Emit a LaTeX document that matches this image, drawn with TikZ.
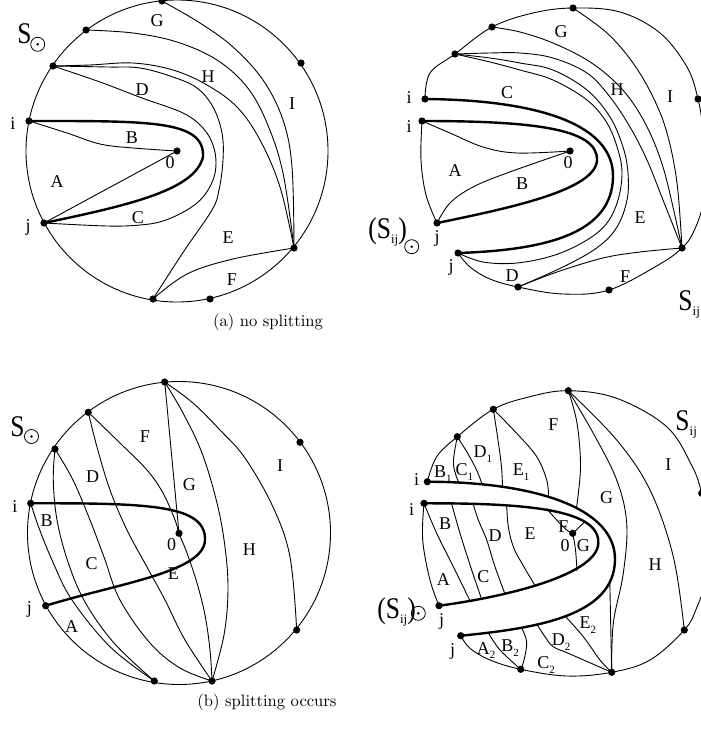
\documentclass[tikz,border=0pt]{standalone}
\usepackage{graphicx}
\usepackage{fontspec}
\newfontfamily\lf{Liberation Serif}
\newfontfamily\capfont{lmroman10-regular.otf}
\newcommand\sbs[2]{#1\rlap{\smash{\raisebox{-4.5pt}{\fontsize{11}{11}\selectfont #2}}}}
\newcommand\bigs[1]{\scalebox{0.85}[1]{\fontsize{30}{30}\selectfont #1}}
\newcommand\ijs{\raisebox{-5pt}{\fontsize{13}{13}\selectfont ij}}
\tikzset{
  thinline/.style={line width=0.9pt},
  cutline/.style={line width=2.4pt},
  lab/.style={font=\lf\fontsize{18}{18}\selectfont, inner sep=0pt},
  biglab/.style={font=\lf, inner sep=0pt, anchor=base west},
  captext/.style={font=\capfont\fontsize{16.6}{20}\selectfont, inner sep=0pt},
  sm/.style={smooth, tension=0.6},
  sunring/.style={line width=0.8pt},
}
\begin{document}
\begin{tikzpicture}[x=1pt,y=-1pt, line join=round, line cap=round, thinline]
\useasboundingbox (0,0) rectangle (701,731);
\begin{scope}
\clip (0,0) rectangle (701,731);

% ================= PANEL 1 =================
\coordinate (aG) at (162,1);
\coordinate (aP2) at (86,30);
\coordinate (aP3) at (53,66);
\coordinate (ai) at (29,121);
\coordinate (aj) at (44,223);
\coordinate (aB1) at (153,299);
\coordinate (aB2) at (210,299);
\coordinate (aR1) at (294,248);
\coordinate (aR2) at (301,63);
\coordinate (a0) at (177,151);
\draw (177,151) circle[radius=151];
\draw[cutline] (ai) .. controls (150,121) and (205,120) .. (203,157) .. controls (195,190) and (130,205) .. (aj);
\draw plot[sm] coordinates {(ai) (67,133) (100,144) (133,148) (a0)};
\draw (aj) -- (a0);
\draw plot[sm] coordinates {(aP3) (100,82) (142,98) (183,113) (203,128) (213,145) (216,163) (213,180) (203,197) (187,210) (163,221) (140,225) (107,226) (aj)};
\draw plot[sm] coordinates {(aP3) (107,67) (140,68) (173,77) (197,88) (213,107) (222,133) (223,160) (219,190) (212,210) (184,251) (aB1)};
\draw plot[sm] coordinates {(aP3) (90,65) (133,63) (173,70) (207,85) (237,107) (260,140) (280,187) (aR1)};
\draw plot[sm] coordinates {(aP2) (133,33) (177,42) (217,60) (247,87) (267,123) (283,173) (aR1)};
\draw plot[sm] coordinates {(aG) (200,23) (233,47) (263,80) (283,120) (292,167) (aR1)};
\draw plot[sm] coordinates {(aB1) (187,274) (233,259) (aR1)};
\foreach \p in {aG,aP2,aP3,ai,aj,aB1,aB2,aR1,aR2,a0} \fill (\p) circle[radius=3.6];
\node[lab] (a-G) at (157,21) {G};
\node[lab] (a-H) at (208,77) {H};
\node[lab] (a-D) at (142,90) {D};
\node[lab] (a-I) at (292,104) {I};
\node[lab] (a-B) at (132,138) {B};
\node[lab] (a-0) at (170,163) {0};
\node[lab] (a-A) at (57,182) {A};
\node[lab] (a-C) at (138,218) {C};
\node[lab] (a-E) at (228,238) {E};
\node[lab] (a-F) at (232,280) {F};
\node[lab] (a-i) at (13,124) {i};
\node[lab] (a-j) at (28,227) {j};
\node[biglab] (a-S) at (17,43) {\bigs{S}};
\draw[sunring] (37.7,44.3) circle[radius=7];
\fill (37.7,44.3) circle[radius=1.4];

% ================= PANEL 2 =================
\coordinate (bT) at (573,8);
\coordinate (bP2) at (492,27);
\coordinate (bP3) at (455,54);
\coordinate (bio) at (425,99);
\coordinate (bii) at (422,121);
\coordinate (b0) at (570,151);
\coordinate (bji) at (437,223);
\coordinate (bjo) at (458,253);
\coordinate (bD) at (518,287);
\coordinate (bF) at (609,290);
\coordinate (bR1) at (682,248);
\coordinate (bR2) at (698,99);
\draw plot[sm] coordinates {(bio) (430,73) (bP3) (bP2) (533,13) (bT) (620,12) (660,33) (687,67) (bR2) (704,135) (707,170) (703,205) (693,233) (bR1) (660,264) (bF) (563,294) (bD) (490,279) (470,267) (bjo)};
\draw plot[sm] coordinates {(bii) (421,160) (426,195) (bji)};
\draw[cutline] (bii) .. controls (530,121) and (598,128) .. (597,160) .. controls (596,190) and (510,208) .. (bji);
\draw[cutline] (bio) .. controls (540,100) and (614,125) .. (613,177) .. controls (612,232) and (550,250) .. (bjo);
\draw plot[sm] coordinates {(bii) (450,133) (483,147) (517,153) (b0)};
\draw plot[sm] coordinates {(bji) (450,203) (473,187) (507,173) (b0)};
\draw plot[sm] coordinates {(bP3) (490,62) (520,70) (553,80) (587,100) (607,123) (618,150) (622,173) (618,200) (607,223) (587,240) (555,255) (517,263) (483,262) (bjo)};
\draw plot[sm] coordinates {(bP3) (490,58) (520,63) (553,70) (587,90) (610,117) (623,147) (628,173) (627,200) (617,227) (598,247) (565,266) (bD)};
\draw plot[sm] coordinates {(bP3) (490,53) (520,53) (553,58) (587,73) (610,97) (630,127) (647,160) (663,200) (bR1)};
\draw plot[sm] coordinates {(bP2) (520,32) (553,43) (587,60) (613,80) (633,103) (650,133) (663,167) (673,207) (bR1)};
\draw plot[sm] coordinates {(bT) (607,33) (633,63) (653,97) (667,133) (677,183) (bR1)};
\draw plot[sm] coordinates {(bD) (557,272) (603,258) (640,252) (bR1)};
\foreach \p in {bT,bP2,bP3,bio,bii,b0,bji,bjo,bD,bF,bR1,bR2} \fill (\p) circle[radius=3.6];
\node[lab] (b-G) at (561,32) {G};
\node[lab] (b-C) at (507,93) {C};
\node[lab] (b-H) at (617,90) {H};
\node[lab] (b-I) at (670,97) {I};
\node[lab] (b-i1) at (409,98) {i};
\node[lab] (b-i2) at (409,127) {i};
\node[lab] (b-A) at (455,171) {A};
\node[lab] (b-B) at (522,184) {B};
\node[lab] (b-0) at (568,163) {0};
\node[lab] (b-E) at (640,218) {E};
\node[lab] (b-j1) at (437,238) {j};
\node[lab] (b-j2) at (451,267) {j};
\node[lab] (b-D) at (512,276) {D};
\node[lab] (b-F) at (625,277) {F};
\node[biglab] (b-S1) at (368,238) {\bigs{(S}\ijs\bigs{)}};
\draw[sunring] (411.7,246.7) circle[radius=7];
\fill (411.7,246.7) circle[radius=1.4];
\node[biglab] (b-S2) at (678,310) {\bigs{S}\ijs};

% ================= PANEL 3 =================
\coordinate (cT) at (164.7,382);
\coordinate (cP2) at (88.3,412.3);
\coordinate (cP3) at (55,449);
\coordinate (ci) at (30.7,503.3);
\coordinate (cj) at (45.7,605.7);
\coordinate (cB1) at (154.3,681);
\coordinate (cB2) at (212,681);
\coordinate (cR1) at (296.7,630);
\coordinate (cR2) at (300,442.3);
\coordinate (c0) at (179,533.3);
\draw (179,533) circle[radius=151.5];
\draw[cutline] (ci) .. controls (150,503) and (206,505) .. (205,540) .. controls (204,572) and (120,583) .. (cj);
\draw plot[sm] coordinates {(ci) (39,528) (53.3,563) (72,600) (110,646.7) (cB1)};
\draw plot[sm] coordinates {(cP3) (53.3,480) (57,520) (68,562) (85,602) (114,643) (cB1)};
\draw plot[sm] coordinates {(cP3) (73,480) (90,520) (104,557) (120,600) (150,643) (180,668) (cB2)};
\draw plot[sm] coordinates {(cP2) (97,447) (110,490) (127,530) (147,567) (165,600) (185,640) (cB2)};
\draw plot[sm] coordinates {(cP2) (120,443) (147,470) (163,493) (175,520) (c0) (187,553) (197,583) (205,615) (210,650) (cB2)};
\draw (cT) -- (c0);
\draw plot[sm] coordinates {(cT) (183,413) (202,453) (217,503) (225,547) (228,590) (224,635) (cB2)};
\draw plot[sm] coordinates {(cT) (193,403) (220,430) (245,458) (273,507) (290,557) (cR1)};
\foreach \p in {cT,cP2,cP3,ci,cj,cB1,cB2,cR1,cR2,c0} \fill (\p) circle[radius=3.6];
\node[lab] (c-F) at (145,436.7) {F};
\node[lab] (c-D) at (92.7,476.7) {D};
\node[lab] (c-G) at (189.3,485) {G};
\node[lab] (c-I) at (280,466) {I};
\node[lab] (c-B) at (46.7,520.7) {B};
\node[lab] (c-0) at (171.7,545) {0};
\node[lab] (c-H) at (249.3,549.3) {H};
\node[lab] (c-C) at (91.7,563.3) {C};
\node[lab] (c-E) at (173.3,573.3) {E};
\node[lab] (c-A) at (71.7,626.7) {A};
\node[lab] (c-i) at (15,506.7) {i};
\node[lab] (c-j) at (29.3,609.3) {j};
\node[biglab] (c-S) at (10,436) {\bigs{S}};
\draw[sunring] (31.5,436.5) circle[radius=7];
\fill (31.5,436.5) circle[radius=1.4];

% ================= PANEL 4 =================
\coordinate (dT) at (568.3,390.7);
\coordinate (dP2) at (493.3,409.3);
\coordinate (dP3) at (457.3,436.7);
\coordinate (dio) at (427.3,481.7);
\coordinate (dii) at (424,503.3);
\coordinate (d0) at (572.7,533.3);
\coordinate (dji) at (439,605.7);
\coordinate (djo) at (460.7,635.7);
\coordinate (dBb) at (520.7,669.3);
\coordinate (dCb) at (611.7,672.3);
\coordinate (dR1) at (684.3,630);
\coordinate (dR2) at (701.7,493.3);
\coordinate (dV) at (609.8,581.9);
\draw plot[sm] coordinates {(dio) (436.7,456.7) (dP3) (dP2) (530,396.7) (dT) (616.7,398.3) (666.7,426.7) (692,466) (dR2) (709,530) (709,570) (697,607) (dR1) (650,660) (dCb) (566.7,676) (dBb) (490,660) (470,648.3) (djo)};
\draw plot[sm] coordinates {(dii) (422.7,540) (430,580) (dji)};
\draw[cutline] (dii) .. controls (530,503) and (600,510) .. (598.3,543.3) .. controls (597,575) and (505,597) .. (dji);
\draw[cutline] (dio) .. controls (540,482) and (616,510) .. (615,560) .. controls (614,615) and (540,628) .. (djo);
% upper region
\draw plot[sm] coordinates {(dP3) (454.3,453.3) (453.5,465) (456.5,477) (459,483)};
\draw plot[sm] coordinates {(dP3) (466.7,451.7) (475,466.7) (480,478.3) (482,484.4)};
\draw plot[sm] coordinates {(dP2) (498,440) (501.5,467) (502.5,486.7)};
\draw plot[sm] coordinates {(dP2) (516.7,433.3) (536.7,456.7) (546.7,480) (548.5,496.6)};
\draw plot[sm] coordinates {(dT) (577,423) (580.5,466.7) (576.5,507.5)};
\draw plot[sm] coordinates {(dT) (593.3,433.3) (616.7,480) (626.7,523.3) (623.3,573.3) (613.3,623.3) (dCb)};
\draw plot[sm] coordinates {(dT) (616.7,440) (650,490) (673.3,556.7) (dR1)};
\draw (dV) -- (dCb);
% inner region
\draw plot[sm] coordinates {(dii) (436.7,533.3) (453.3,566.7) (470,600.7)};
\draw plot[sm] coordinates {(451.7,504) (460,533.3) (471.7,570) (481.5,598.7)};
\draw plot[sm] coordinates {(473.3,504.3) (478.3,520) (486.7,540) (495,566.7) (505,594)};
\draw plot[sm] coordinates {(506.7,505) (508.3,526.7) (513.3,546.7) (521.7,563) (535,585.5)};
\draw plot[sm] coordinates {(546.7,508.8) (556.7,520) (566.7,530) (d0)};
\draw (d0) -- (584,522.5);
\draw plot[sm] coordinates {(d0) (575.5,550) (577,571)};
% lower region
\draw plot[sm] coordinates {(488.3,632.7) (500,650) (dBb)};
\draw plot[sm] coordinates {(521.7,628) (526.7,642) (524,660) (dBb)};
\draw plot[sm] coordinates {(537,624.5) (545,636.7) (553.3,646.7) (570,654) (dCb)};
\draw plot[sm] coordinates {(565,616) (583.3,636.7) (600,660) (dCb)};
\foreach \p in {dT,dP2,dP3,dio,dii,d0,dji,djo,dBb,dCb,dR1,dR2} \fill (\p) circle[radius=3.6];
\node[lab] (d-F1) at (553.3,425) {F};
\node[lab] (d-D1) at (480,451.7) {\sbs{D}{1}};
\node[lab] (d-B1) at (440,471.7) {\sbs{B}{1}};
\node[lab] (d-C1) at (461.7,470) {\sbs{C}{1}};
\node[lab] (d-E1) at (518.3,470) {\sbs{E}{1}};
\node[lab] (d-I) at (668.3,465) {I};
\node[lab] (d-G1) at (606.7,497.3) {G};
\node[lab] (d-B) at (445,523.3) {B};
\node[lab] (d-D) at (495,536) {D};
\node[lab] (d-E) at (530,533.3) {E};
\node[lab] (d-F2) at (563.3,526.7) {F};
\node[lab] (d-0) at (565,546) {0};
\node[lab] (d-G2) at (583.3,546) {G};
\node[lab] (d-H) at (655,565) {H};
\node[lab] (d-A) at (443.3,580) {A};
\node[lab] (d-C) at (483.3,576.7) {C};
\node[lab] (d-i1) at (416.7,480) {i};
\node[lab] (d-i2) at (411.7,510) {i};
\node[lab] (d-j1) at (441.7,621.7) {j};
\node[lab] (d-j2) at (452.7,651.7) {j};
\node[lab] (d-A2) at (483.3,648.3) {\sbs{A}{2}};
\node[lab] (d-B2) at (507.3,646) {\sbs{B}{2}};
\node[lab] (d-C2) at (543.3,662.7) {\sbs{C}{2}};
\node[lab] (d-D2) at (558.3,640) {\sbs{D}{2}};
\node[lab] (d-E2) at (585,622.7) {\sbs{E}{2}};
\node[biglab] (d-S1) at (377,618) {\bigs{(S}\ijs\bigs{)}};
\draw[sunring] (418.3,613.3) circle[radius=7];
\fill (418.3,613.3) circle[radius=1.4];
\node[biglab] (d-S2) at (675,430) {\bigs{S}\ijs};

% captions
\node[captext] (capa) at (268,322) {(a) no splitting};
\node[captext] (capb) at (267,702.5) {(b) splitting occurs};
\end{scope}
\end{tikzpicture}
\end{document}
